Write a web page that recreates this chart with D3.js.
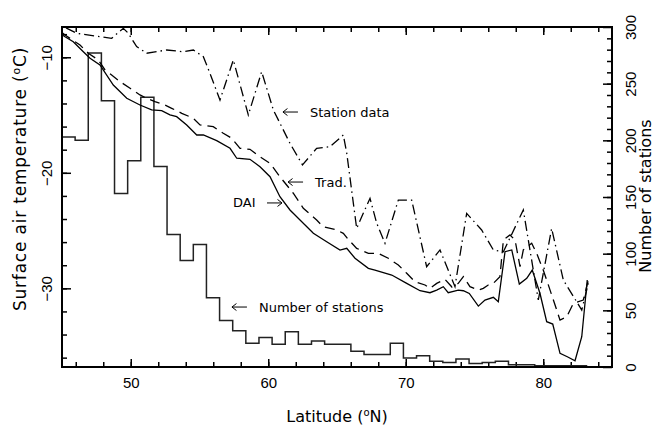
<!DOCTYPE html>
<html>
<head>
<meta charset="utf-8">
<script src="https://cdn.jsdelivr.net/npm/d3@7"></script>
<style>
  body { margin: 0; background: #fff; }
  svg { font-family: "DejaVu Sans", sans-serif; }
  .axis path { display: none; }
  .axis line { stroke: #000; stroke-width: 1.5; }
  .axis text { font-size: 15px; fill: #000; }
</style>
</head>
<body>
<div id="chart"></div>
<script>
// number of stations per latitude band (bands start at 45N)
var binStart = 45, binWidth = 0.955;
var stationCounts = [203, 200, 277, 235, 153, 182, 238, 177, 117, 94,
                     108, 61, 41, 32, 21, 26, 20, 31, 20, 23,
                     20, 20, 14, 11, 11, 21, 8, 10, 5, 4,
                     7, 3, 4, 5, 2, 2, 1, 1, 1, 1];

// DAI (solid)
var daiLat = [45.0, 45.22, 45.82, 46.55, 47.04, 47.76, 48.73, 49.71, 50.67, 51.52, 52.25, 52.85, 53.34, 54.07,
              54.80, 55.28, 56.25, 57.22, 57.71, 58.67, 59.40, 60.13, 60.85, 61.58, 62.31, 63.28, 64.25, 65.22,
              65.71, 66.31, 67.28, 67.76, 68.98, 70.07, 71.04, 71.76, 72.25, 72.73, 73.09, 73.82, 74.19, 74.62,
              75.28, 75.76, 76.37, 76.73, 77.22, 77.71, 78.26, 78.80, 79.20, 79.76, 80.25, 80.69, 81.22, 81.75,
              82.31, 82.80, 83.20];
var daiTemp = [-8.05, -8.22, -8.65, -9.52, -10.09, -10.67, -12.40, -13.55, -14.13, -14.56, -14.62, -14.99, -15.14, -15.86,
               -16.73, -16.73, -17.22, -17.88, -18.74, -18.83, -19.47, -20.34, -22.07, -23.22, -24.09, -25.24, -25.97, -26.69,
               -26.54, -27.40, -28.27, -28.42, -28.85, -29.57, -30.21, -30.38, -30.15, -29.86, -30.38, -30.15, -30.21, -30.44,
               -31.54, -31.02, -30.78, -31.16, -26.83, -26.68, -29.63, -29.13, -28.42, -30.43, -32.89, -33.09, -35.63, -35.92,
               -36.27, -34.19, -29.28];

// Trad. (dashed)
var tradLat = [45.0, 45.22, 46.31, 46.91, 47.64, 48.13, 48.61, 49.22, 49.95, 50.67, 51.16, 51.76, 52.49, 52.98, 53.71,
               54.55, 55.04, 56.0, 56.73, 57.34, 57.95, 58.67, 59.4, 60.13, 60.85, 61.82, 62.55, 63.52, 64.0, 64.98,
               65.46, 65.82, 66.43, 67.28, 68.0, 68.73, 69.46, 70.07, 70.67, 71.4, 71.76, 72.25, 72.85, 73.36, 73.82,
               74.19, 74.67, 75.28, 75.64, 76.0, 76.37, 76.85, 77.1, 77.58, 77.95, 78.31, 78.55, 79.16, 79.52, 80.0,
               80.25, 80.98, 81.22, 81.71, 82.19, 82.91, 83.28];
var tradTemp = [-7.85, -8.07, -8.94, -9.65, -10.23, -11.10, -11.53, -12.11, -12.68, -13.26, -13.55, -13.84, -14.13, -14.42, -14.85,
                -15.28, -15.86, -16.01, -16.58, -17.01, -17.88, -17.97, -18.61, -19.18, -20.34, -21.77, -23.07, -24.09, -24.67, -24.95,
                -25.24, -25.76, -26.54, -26.97, -26.97, -27.40, -27.98, -28.70, -29.43, -29.71, -30.0, -29.57, -29.22, -29.89, -29.57,
                -28.99, -29.86, -30.15, -30.0, -29.71, -29.57, -28.99, -25.82, -25.38, -25.82, -28.13, -26.68, -26.10, -26.97, -28.42,
                -29.28, -31.88, -32.75, -32.46, -31.30, -31.02, -29.28];

// Station data (dash-dot)
var obsLat = [45.29, 46.07, 47.76, 48.61, 49.46, 49.82, 50.43, 51.16, 52.61, 53.82, 54.55, 55.28, 55.76, 56.49, 57.46,
              58.55, 59.52, 60.37, 61.58, 62.49, 63.52, 64.49, 65.46, 65.71, 66.19, 66.43, 66.91, 67.40, 67.89, 68.49,
              69.46, 70.43, 71.52, 72.49, 73.58, 74.43, 75.52, 76.37, 77.10, 78.55, 79.64, 80.61, 81.46, 82.80, 83.28];
var obsTemp = [-7.46, -7.92, -8.22, -8.36, -7.49, -7.92, -9.08, -9.65, -9.37, -9.52, -9.37, -9.95, -11.39, -13.70, -10.23,
               -15.0, -11.25, -14.56, -17.45, -19.32, -17.88, -17.74, -16.73, -18.31, -22.64, -24.81, -23.51, -22.21, -24.37, -26.10,
               -22.36, -22.36, -28.13, -26.68, -29.86, -23.51, -24.95, -26.68, -26.83, -23.22, -31.01, -24.81, -29.28, -31.88, -29.57];

var latTicks = [50, 60, 70, 80];
var tempTicks = [-10, -20, -30];
var countTicks = [0, 50, 100, 150, 200, 250, 300];

var width = 655, height = 425;
var margin = {top: 27, right: 43, bottom: 58, left: 62};
var w = width - margin.left - margin.right,
    h = height - margin.top - margin.bottom;

var svg = d3.select("#chart").append("svg")
    .attr("width", width)
    .attr("height", height);

var x = d3.scaleLinear().domain([45, 85]).range([margin.left, margin.left + w]);
var yT = d3.scaleLinear().domain([-36.81, -7.38]).range([margin.top + h, margin.top]);
var yN = d3.scaleLinear().domain([0, 300]).range([margin.top + h, margin.top]);

function zip(a, b) {
    return a.map(function (v, i) { return [v, b[i]]; });
}

// bottom axis, minor then major
svg.append("g").attr("class", "axis")
    .attr("transform", "translate(0," + (margin.top + h) + ")")
    .call(d3.axisBottom(x).tickValues(d3.range(46, 85, 2)).tickSize(-5).tickFormat(""));
svg.append("g").attr("class", "axis")
    .attr("transform", "translate(0," + (margin.top + h) + ")")
    .call(d3.axisBottom(x).tickValues(latTicks).tickSize(-8).tickPadding(10).tickFormat(d3.format("d")));

// top axis (mirror)
svg.append("g").attr("class", "axis")
    .attr("transform", "translate(0," + margin.top + ")")
    .call(d3.axisTop(x).tickValues(d3.range(46, 85, 2)).tickSize(-5).tickFormat(""));
svg.append("g").attr("class", "axis")
    .attr("transform", "translate(0," + margin.top + ")")
    .call(d3.axisTop(x).tickValues(latTicks).tickSize(-8).tickFormat(""));

// left axis
svg.append("g").attr("class", "axis")
    .attr("transform", "translate(" + margin.left + ",0)")
    .call(d3.axisLeft(yT).tickValues(d3.range(-36, -7, 2)).tickSize(-5).tickFormat(""));
var leftAx = svg.append("g").attr("class", "axis")
    .attr("transform", "translate(" + margin.left + ",0)")
    .call(d3.axisLeft(yT).tickValues(tempTicks).tickSize(-9).tickFormat(d3.format("d")));
leftAx.selectAll("text")
    .attr("x", null).attr("dy", null)
    .attr("text-anchor", "middle")
    .attr("transform", "translate(-10,0) rotate(-90)");

// right axis
svg.append("g").attr("class", "axis")
    .attr("transform", "translate(" + (margin.left + w) + ",0)")
    .call(d3.axisRight(yN).tickValues(d3.range(10, 300, 10)).tickSize(-5).tickFormat(""));
var rightAx = svg.append("g").attr("class", "axis")
    .attr("transform", "translate(" + (margin.left + w) + ",0)")
    .call(d3.axisRight(yN).tickValues(countTicks).tickSize(-9).tickFormat(d3.format("d")));
rightAx.selectAll("text")
    .attr("x", null).attr("dy", null)
    .attr("text-anchor", "middle")
    .attr("transform", "translate(23.5,0) rotate(-90)");

// histogram of stations
var hist = stationCounts.map(function (n, i) { return [binStart + i * binWidth, n]; });
hist.push([binStart + stationCounts.length * binWidth, stationCounts[stationCounts.length - 1]]);
svg.append("path")
    .attr("d", d3.line().curve(d3.curveStepAfter)
        .x(function (d) { return x(d[0]); })
        .y(function (d) { return yN(d[1]); })(hist))
    .style("fill", "none")
    .style("stroke", "#222")
    .style("stroke-width", 1.5);

// temperature curves
var tline = d3.line()
    .x(function (d) { return x(d[0]); })
    .y(function (d) { return yT(d[1]); });

var curves = [
    {name: "DAI", data: zip(daiLat, daiTemp), dash: null},
    {name: "Trad.", data: zip(tradLat, tradTemp), dash: "10,6"},
    {name: "Station data", data: zip(obsLat, obsTemp), dash: "10,4,1.5,4"}
];
svg.selectAll(".series")
    .data(curves)
    .enter().append("path")
    .attr("class", "series")
    .attr("d", function (d) { return tline(d.data); })
    .style("fill", "none")
    .style("stroke", "#000")
    .style("stroke-width", 1.3)
    .style("stroke-dasharray", function (d) { return d.dash; });

// frame
svg.append("rect")
    .attr("x", margin.left).attr("y", margin.top)
    .attr("width", w).attr("height", h)
    .style("fill", "none").style("stroke", "#000").style("stroke-width", 2);

// annotations with arrows
var notes = [
    {text: "Station data", lat: 61.07, t: -14.74, dir: "left"},
    {text: "Trad.", lat: 61.44, t: -20.80, dir: "left"},
    {text: "DAI", lat: 61.0, t: -22.61, dir: "right"},
    {text: "Number of stations", lat: 57.36, t: -31.62, dir: "left"}
];
notes.forEach(function (n) {
    var px = x(n.lat), py = yT(n.t);
    var tail = n.dir === "left" ? px + 15 : px - 15;
    var s = n.dir === "left" ? 1 : -1;
    svg.append("path")
        .attr("d", "M" + tail + "," + py + "H" + px +
            "M" + (px + s * 4.5) + "," + (py - 3.5) + "L" + px + "," + py + "L" + (px + s * 4.5) + "," + (py + 3.5))
        .style("fill", "none").style("stroke", "#000").style("stroke-width", 1);
    svg.append("text")
        .attr("x", n.dir === "left" ? px + 27 : px - 49)
        .attr("y", py + 4.5)
        .style("font-size", "13px")
        .text(n.text);
});

// axis titles
var xt = svg.append("text")
    .attr("x", 337).attr("y", 422)
    .attr("text-anchor", "middle")
    .style("font-size", "16px");
xt.append("tspan").text("Latitude (");
xt.append("tspan").attr("dy", -6).style("font-size", "10px").text("o");
xt.append("tspan").attr("dy", 6).text("N)");

var lt = svg.append("text")
    .attr("transform", "translate(26,179) rotate(-90)")
    .attr("text-anchor", "middle")
    .style("font-size", "17px")
    .style("letter-spacing", "0.8px");
lt.append("tspan").text("Surface air temperature (");
lt.append("tspan").attr("dy", -6).style("font-size", "11px").text("o");
lt.append("tspan").attr("dy", 6).text("C)");

svg.append("text")
    .attr("transform", "translate(651,196) rotate(-90)")
    .attr("text-anchor", "middle")
    .style("font-size", "16px")
    .text("Number of stations");
</script>
</body>
</html>
